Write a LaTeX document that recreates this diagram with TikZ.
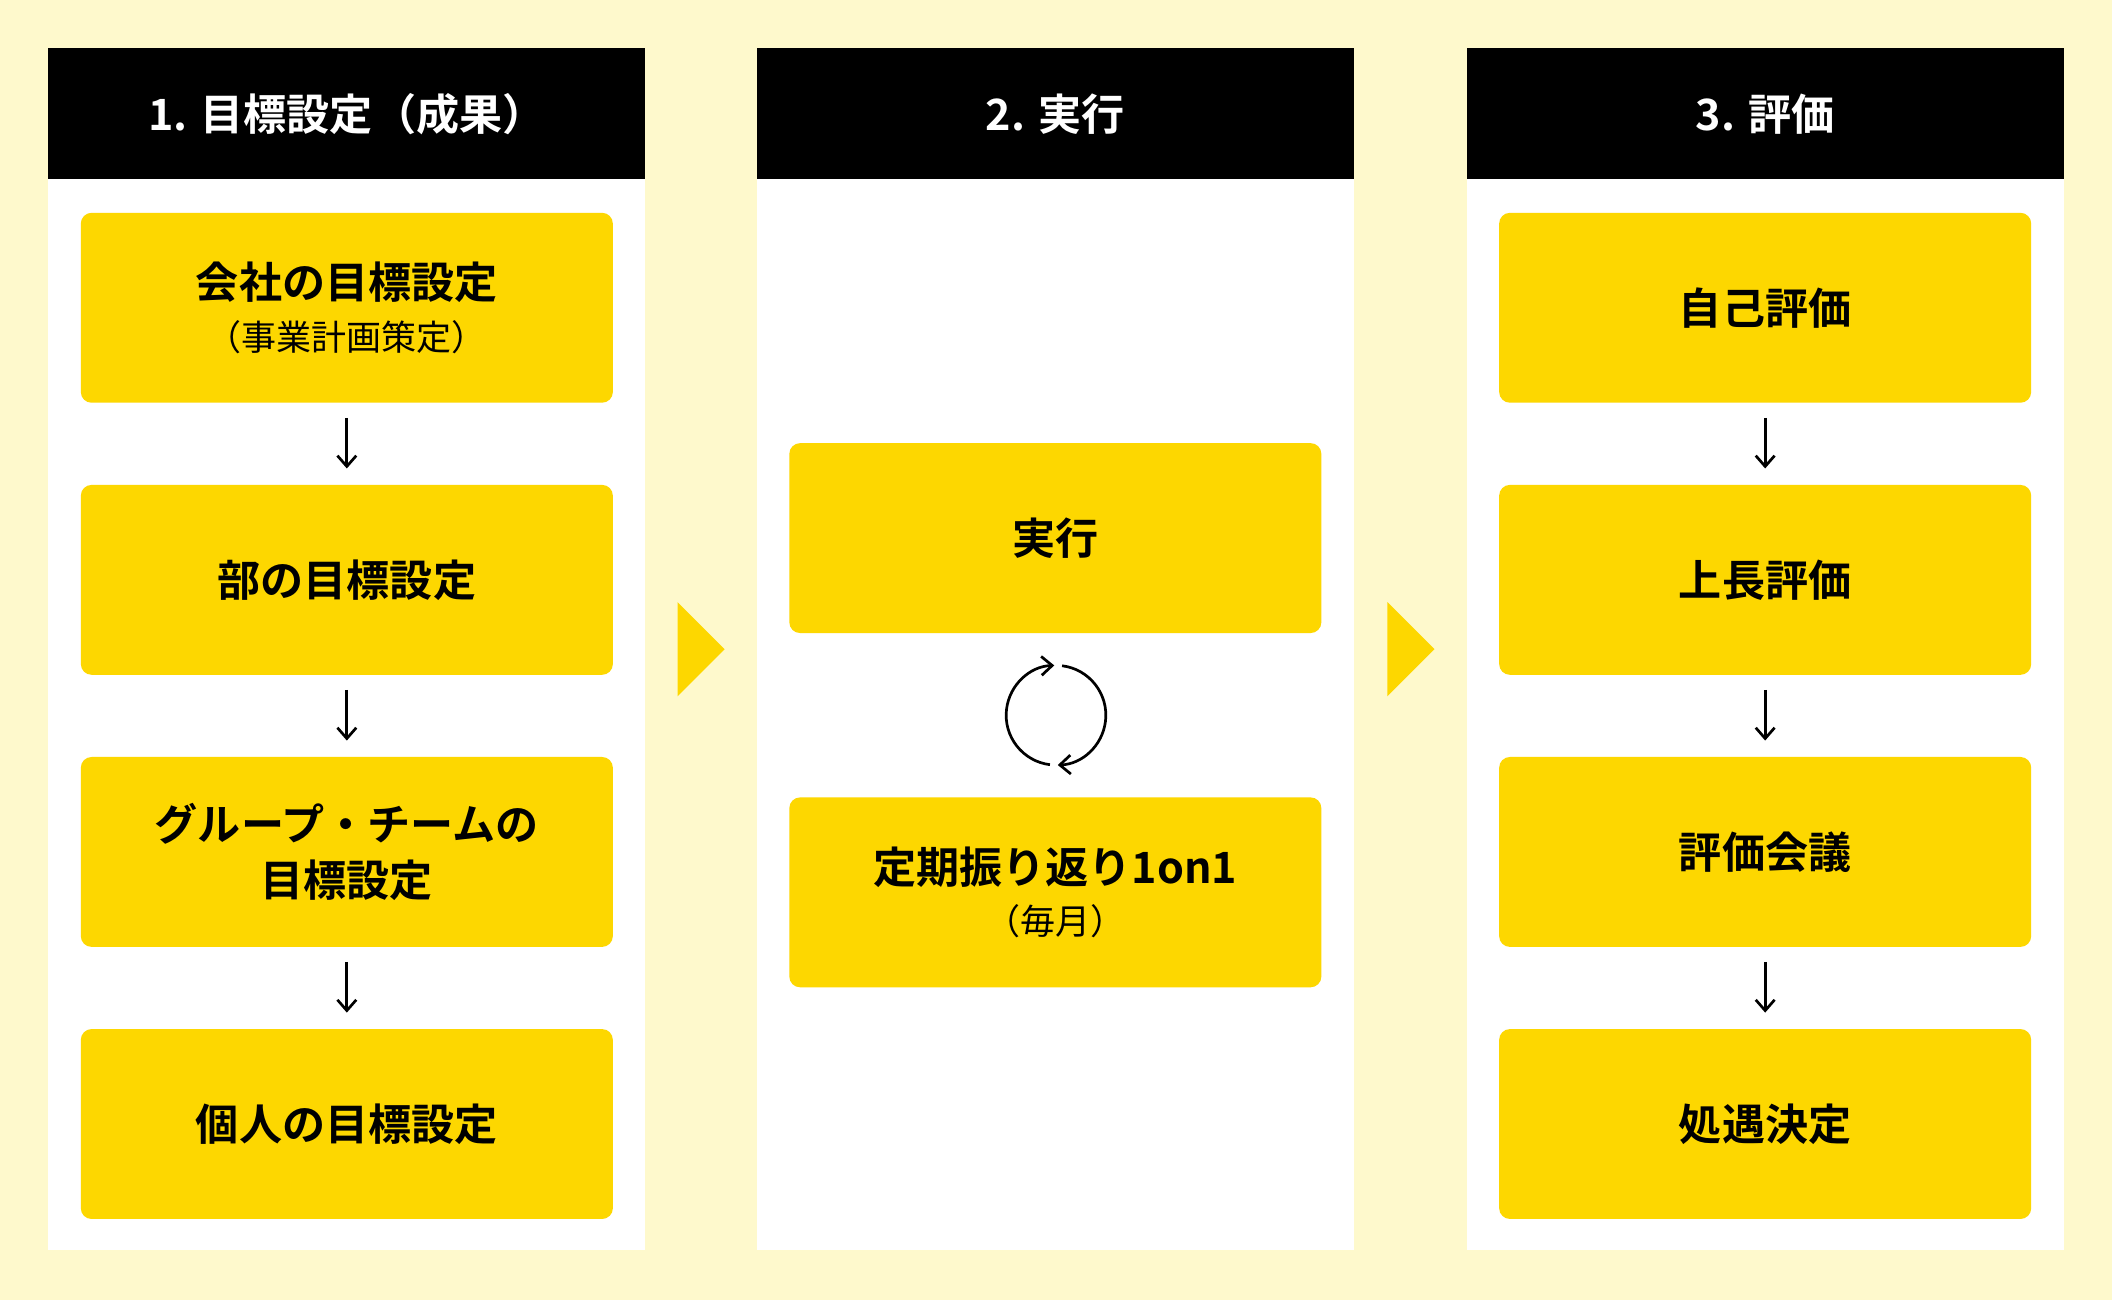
\documentclass[tikz,border=0pt]{standalone}
\usepackage{fontspec}
\newfontfamily\jp{Noto Sans CJK JP}[BoldFont={Noto Sans CJK JP Bold}]
\usetikzlibrary{arrows.meta}
\definecolor{bgc}{HTML}{FEF9CC}
\definecolor{yel}{HTML}{FDD700}
\begin{document}
\begin{tikzpicture}[x=1pt,y=-1pt,
  box/.style={fill=yel,rounded corners=8pt,minimum width=395pt,minimum height=141pt,inner sep=0pt,align=center,font=\jp\bfseries\fontsize{32}{42}\selectfont},
  head/.style={fill=black,text=white,minimum width=443pt,minimum height=97pt,inner sep=0pt,font=\jp\bfseries\fontsize{32}{40}\selectfont},
  body/.style={fill=white,minimum width=443pt,minimum height=795pt,inner sep=0pt},
  sub/.style={font=\jp\fontsize{26}{30}\selectfont},
  dn/.style={-{Straight Barb[length=8pt,width=14pt,line width=2pt]},line width=2.2pt,shorten <=11pt,shorten >=12pt}]
\fill[bgc] (0,0) rectangle (1568,965);
\useasboundingbox (0,0) rectangle (1568,965);
\foreach \c/\x/\t in {1/36/1. 目標設定（成果）,2/562/2. 実行,3/1089/3. 評価}{
  \node[body] (b\c) at (\x+221.5,530.5) {};
  \node[head] (h\c) at (\x+221.5,84.5) {\t};
}
\node[box] (a1) at (257.5,228.5) {会社の目標設定\\[-4pt]{\jp\mdseries\fontsize{26}{30}\selectfont（事業計画策定）}};
\node[box] (a2) at (257.5,430.5) {部の目標設定};
\node[box] (a3) at (257.5,632.5) {グループ・チームの\\目標設定};
\node[box] (a4) at (257.5,834.5) {個人の目標設定};
\node[box] (m1) at (783.5,399.5) {実行};
\node[box] (m2) at (783.5,662.5) {定期振り返り1on1\\[-4pt]{\jp\mdseries\fontsize{26}{30}\selectfont（毎月）}};
\node[box] (c1) at (1310.5,228.5) {自己評価};
\node[box] (c2) at (1310.5,430.5) {上長評価};
\node[box] (c3) at (1310.5,632.5) {評価会議};
\node[box] (c4) at (1310.5,834.5) {処遇決定};
\draw[dn] (a1) -- (a2); \draw[dn] (a2) -- (a3); \draw[dn] (a3) -- (a4);
\draw[dn] (c1) -- (c2); \draw[dn] (c2) -- (c3); \draw[dn] (c3) -- (c4);
\fill[yel] (503,447) -- (538,482) -- (503,517) -- cycle;
\fill[yel] (1030,447) -- (1065,482) -- (1030,517) -- cycle;
\coordinate (cy) at (784,531);
\draw[line width=2pt,-{Straight Barb[length=8pt,width=14pt,line width=2pt]}] ([shift={(97:37)}]cy) arc[start angle=97,end angle=268,radius=37];
\draw[line width=2pt,-{Straight Barb[length=8pt,width=14pt,line width=2pt]}] ([shift={(277:37)}]cy) arc[start angle=277,end angle=448,radius=37];
\end{tikzpicture}
\end{document}
